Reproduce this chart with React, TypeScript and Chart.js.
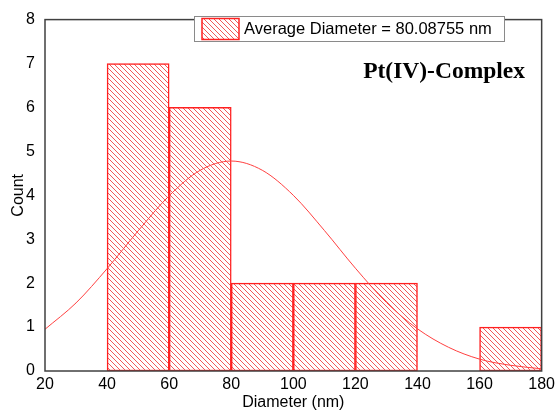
import React, { useEffect, useRef } from "react";
import { Chart, registerables } from "chart.js";

Chart.register(...registerables);

// Histogram bins (centres, nm) and counts
const binCenters = [50, 70, 90, 110, 130, 150, 170];
const counts = [7, 6, 2, 2, 2, 0, 1];

// Fitted normal curve
const fitX = [20, 30, 40, 50, 60, 70, 80, 90, 100, 110, 120, 130, 140, 150, 160, 170, 180];
const fitY = [0.95, 1.55, 2.33, 3.19, 3.99, 4.57, 4.78, 4.57, 4.0, 3.2, 2.34, 1.56, 0.96, 0.54, 0.27, 0.13, 0.05];

const legendLabel = "Average Diameter = 80.08755 nm";
const sampleLabel = "Pt(IV)-Complex";
const xTitle = "Diameter (nm)";
const yTitle = "Count";
const topCutTitle = "Diameter (nm)";

const xMin = 20, xMax = 180, xStep = 20;
const yMin = 0, yMax = 8, yStep = 1;

const SANS = '"Liberation Sans", Arial, sans-serif';
const SERIF = '"Liberation Serif", "Times New Roman", serif';

function makeHatch(): CanvasPattern | string {
  const c = document.createElement("canvas");
  const s = 5;
  c.width = s;
  c.height = s;
  const g = c.getContext("2d");
  if (!g) return "rgba(255,0,0,0.3)";
  g.fillStyle = "#ffffff";
  g.fillRect(0, 0, s, s);
  g.strokeStyle = "rgba(238,60,60,0.85)";
  g.lineWidth = 1;
  g.beginPath();
  g.moveTo(-1, -1);
  g.lineTo(s + 1, s + 1);
  g.moveTo(-1, s - 1);
  g.lineTo(1, s + 1);
  g.moveTo(s - 1, -1);
  g.lineTo(s + 1, 1);
  g.stroke();
  const p = g.createPattern(c, "repeat");
  return p || "rgba(255,0,0,0.3)";
}

export default function App() {
  const ref = useRef<HTMLCanvasElement | null>(null);

  useEffect(() => {
    document.body.style.margin = "0";
    const canvas = ref.current;
    if (!canvas) return;
    const hatch = makeHatch();

    const decor = {
      id: "decor",
      afterDraw(chart: any) {
        const ctx = chart.ctx as CanvasRenderingContext2D;
        const a = chart.chartArea;
        ctx.save();
        // frame
        ctx.strokeStyle = "#404040";
        ctx.lineWidth = 1.5;
        ctx.strokeRect(a.left, a.top, a.right - a.left, a.bottom - a.top);

        // cut-off top title (only its lowest pixel row shows)
        ctx.fillStyle = "#888";
        ctx.font = `15px ${SANS}`;
        ctx.textAlign = "right";
        ctx.textBaseline = "bottom";
        ctx.fillText(topCutTitle, 320, -2);

        // legend box
        ctx.fillStyle = "#ffffff";
        ctx.fillRect(194.5, 16.5, 310, 25);
        ctx.strokeStyle = "#8a8a8a";
        ctx.lineWidth = 1;
        ctx.strokeRect(194.5, 16.5, 310, 25);
        ctx.fillStyle = hatch as any;
        ctx.fillRect(202, 18.5, 37, 21);
        ctx.strokeStyle = "#ff2020";
        ctx.lineWidth = 1.5;
        ctx.strokeRect(202, 18.5, 37, 21);
        ctx.fillStyle = "#000";
        ctx.font = `16.5px ${SANS}`;
        ctx.textAlign = "left";
        ctx.textBaseline = "middle";
        ctx.fillText(legendLabel, 244, 29.5);

        // sample label
        ctx.font = `bold 23.5px ${SERIF}`;
        ctx.textAlign = "right";
        ctx.textBaseline = "alphabetic";
        ctx.fillText(sampleLabel, 525, 78);
        ctx.restore();
      },
    };

    const chart = new Chart(canvas, {
      type: "bar",
      data: {
        datasets: [
          {
            type: "line",
            label: "fit",
            data: fitX.map((x, i) => ({ x, y: fitY[i] })),
            borderColor: "#ff4040",
            borderWidth: 1,
            pointRadius: 0,
            cubicInterpolationMode: "monotone",
            fill: false,
            order: 0,
          } as any,
          {
            type: "bar",
            label: legendLabel,
            data: binCenters.map((x, i) => ({ x, y: counts[i] })),
            backgroundColor: hatch as any,
            borderColor: "#ff2020",
            borderWidth: 1.5,
            borderSkipped: false,
            barPercentage: 1,
            categoryPercentage: 1,
            order: 1,
          } as any,
        ],
      },
      options: {
        responsive: false,
        animation: false,
        layout: { padding: { top: 13, right: 16, left: 0, bottom: 0 } },
        plugins: { legend: { display: false }, tooltip: { enabled: false } },
        scales: {
          x: {
            type: "linear",
            min: xMin,
            max: xMax,
            offset: false,
            grid: { display: false, drawTicks: false },
            border: { display: false },
            ticks: {
              stepSize: xStep,
              padding: 4,
              color: "#000",
              font: { family: SANS, size: 16 },
              maxRotation: 0,
            },
            title: {
              display: true,
              text: xTitle,
              color: "#000",
              font: { family: SANS, size: 16 },
              padding: { top: 0, bottom: 0 },
            },
            afterFit: (s: any) => {
              s.height = 41;
            },
          },
          y: {
            type: "linear",
            min: yMin,
            max: yMax,
            grid: { display: false, drawTicks: false },
            border: { display: false },
            ticks: {
              stepSize: yStep,
              padding: 10,
              color: "#000",
              font: { family: SANS, size: 16 },
            },
            title: {
              display: true,
              text: yTitle,
              color: "#000",
              font: { family: SANS, size: 16 },
              padding: { top: 9, bottom: 0 },
            },
            afterFit: (s: any) => {
              s.width = 45;
            },
          },
        },
      } as any,
      plugins: [decor],
    });
    return () => chart.destroy();
  }, []);

  return (
    <div style={{ position: "absolute", left: 0, top: 0, width: 559, height: 412, background: "#fff" }}>
      <canvas ref={ref} width={559} height={412} style={{ width: 559, height: 412, display: "block" }} />
    </div>
  );
}
